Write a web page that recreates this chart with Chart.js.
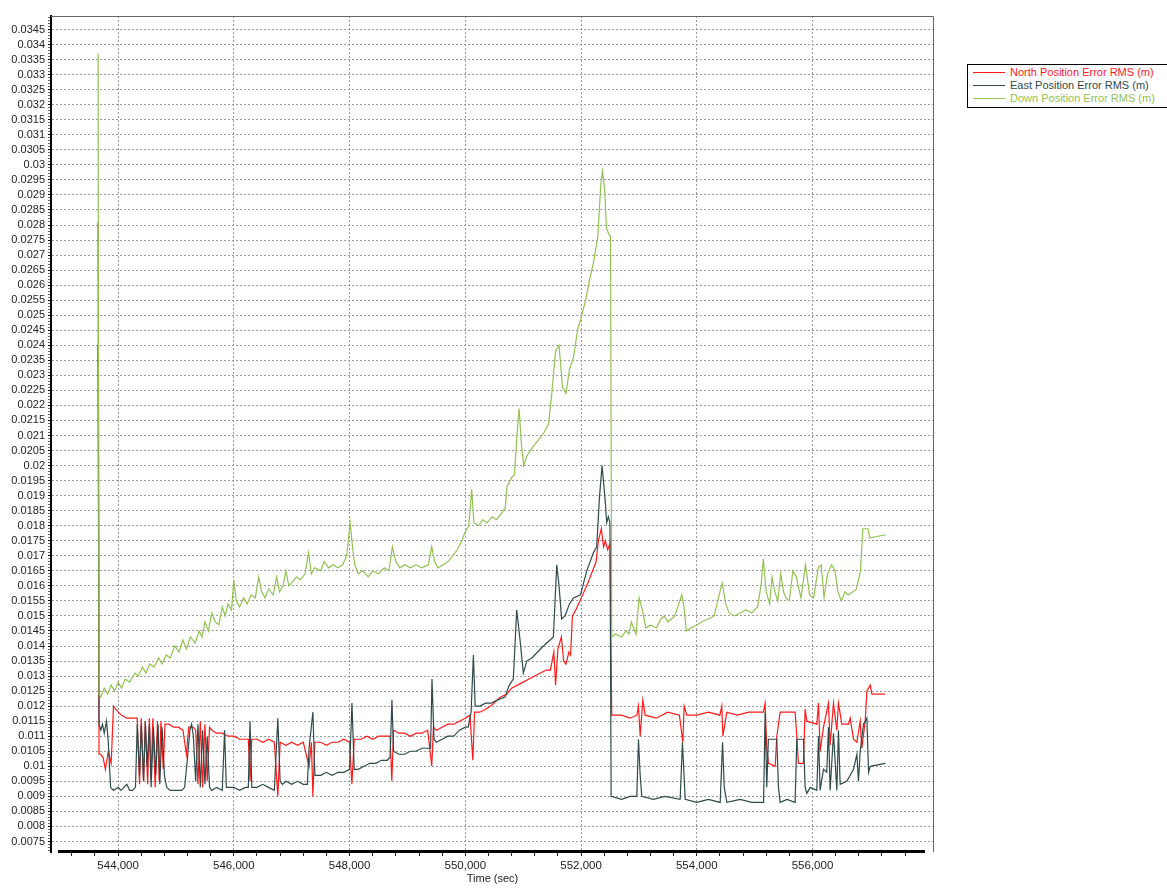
<!DOCTYPE html>
<html>
<head>
<meta charset="utf-8">
<title>Position Error RMS</title>
<script src="https://cdn.jsdelivr.net/npm/chart.js@4.4.1/dist/chart.umd.min.js"></script>
<style>
    html, body { margin: 0; padding: 0; background: #fff; }
    .chart-container { position: relative; width: 1167px; height: 888px; overflow: hidden; }
    .legend-container {
        position: absolute; left: 967px; top: 64px; width: 240px; height: 42px;
        border: 1px solid #000; background: #fff;
        font: 11px 'Liberation Sans', Arial, sans-serif;
    }
    .legend-item { position: absolute; left: 0; height: 14px; line-height: 14px; white-space: nowrap; }
    .legend-line { position: absolute; left: 5px; top: 7px; width: 32px; height: 0; border-top: 1px solid; }
    .legend-item span { position: absolute; left: 42px; }
</style>
</head>
<body>
<div class="chart-container">
    <canvas id="rmsChart" width="1167" height="888"></canvas>
</div>
<script>
// axis ranges
const xMin = 542840, xMax = 558100;
const yMin = 0.00715, yMax = 0.03495;

// North Position Error RMS (m)
const northTime = [
    543654, 543670, 543700, 543740, 543780, 543830, 543880, 543920, 544000, 544060,
    544150, 544250, 544330, 544370, 544400, 544440, 544470, 544510, 544540, 544570,
    544600, 544640, 544680, 544710, 544740, 544780, 544810, 544880, 544960, 545040,
    545120, 545180, 545220, 545300, 545340, 545380, 545420, 545460, 545500, 545540,
    545580, 545620, 545700, 545800, 545900, 546000, 546100, 546200, 546250, 546280,
    546310, 546400, 546500, 546600, 546700, 546760, 546800, 546900, 547000, 547100,
    547200, 547300, 547340, 547366, 547400, 547500, 547600, 547700, 547800, 547900,
    548000, 548040, 548080, 548200, 548300, 548400, 548500, 548600, 548700, 548730,
    548760, 548850, 548950, 549050, 549150, 549250, 549350, 549420, 549450, 549500,
    549600, 549700, 549800, 549900, 550000, 550080, 550130, 550160, 550250, 550350,
    550430, 550500, 550600, 550720, 550800, 550900, 551000, 551100, 551200, 551300,
    551400, 551470, 551530, 551560, 551600, 551660, 551700, 551740, 551790, 551820,
    551850, 551910, 551980, 552050, 552120, 552200, 552260, 552300, 552350, 552390,
    552420, 552460, 552500, 552530, 552700, 552850, 552964, 552993, 553022, 553068,
    553108, 553300, 553500, 553700, 553759, 553782, 553828, 554000, 554200, 554400,
    554433, 554452, 554519, 554700, 554900, 555152, 555181, 555210, 555240, 555355,
    555384, 555441, 555700, 555729, 555756, 555843, 555873, 555902, 556075, 556104,
    556132, 556190, 556276, 556305, 556363, 556421, 556449, 556507, 556622, 556651,
    556709, 556767, 556824, 556853, 556911, 556940, 556998, 557027, 557257
];
const northRms = [
    0.0281, 0.0104, 0.0104, 0.0103, 0.0099, 0.0105, 0.0101, 0.0120, 0.0118, 0.0117,
    0.0116, 0.0116, 0.0116, 0.0094, 0.0116, 0.0095, 0.0115, 0.0094, 0.0116, 0.0096,
    0.0116, 0.0093, 0.0115, 0.0095, 0.0115, 0.0099, 0.0114, 0.0114, 0.0113, 0.0113,
    0.0112, 0.0104, 0.0113, 0.0113, 0.0112, 0.0094, 0.0115, 0.0093, 0.0114, 0.0095,
    0.0113, 0.0112, 0.0111, 0.0111, 0.0110, 0.0110, 0.0109, 0.0109, 0.0109, 0.0095,
    0.0109, 0.0109, 0.0108, 0.0109, 0.0108, 0.0090, 0.0108, 0.0107, 0.0108, 0.0107,
    0.0108, 0.0100, 0.0108, 0.0090, 0.0108, 0.0108, 0.0107, 0.0108, 0.0108, 0.0109,
    0.0108, 0.0094, 0.0109, 0.0109, 0.0110, 0.0109, 0.0110, 0.0110, 0.0110, 0.0095,
    0.0112, 0.0111, 0.0111, 0.0110, 0.0111, 0.0111, 0.0112, 0.0100, 0.0113, 0.0112,
    0.0113, 0.0114, 0.0114, 0.0115, 0.0116, 0.0117, 0.0102, 0.0118, 0.0118, 0.0119,
    0.0120, 0.0121, 0.0123, 0.0124, 0.0126, 0.0127, 0.0128, 0.0129, 0.0130, 0.0131,
    0.0132, 0.0132, 0.0138, 0.0127, 0.0139, 0.0143, 0.0135, 0.0134, 0.0138, 0.0137,
    0.0150, 0.0152, 0.0155, 0.0158, 0.0161, 0.0165, 0.0168, 0.0175, 0.0179, 0.0173,
    0.0175, 0.0172, 0.0174, 0.0117, 0.0117, 0.0116, 0.0117, 0.0120, 0.0110, 0.0122,
    0.0117, 0.0116, 0.0118, 0.0117, 0.0108, 0.0120, 0.0117, 0.0117, 0.0118, 0.0117,
    0.0120, 0.0110, 0.0118, 0.0117, 0.0118, 0.0118, 0.0121, 0.0106, 0.0101, 0.0100,
    0.0110, 0.0118, 0.0118, 0.0110, 0.0101, 0.0101, 0.0119, 0.0115, 0.0114, 0.0121,
    0.0105, 0.0113, 0.0121, 0.0107, 0.0121, 0.0112, 0.0121, 0.0114, 0.0114, 0.0116,
    0.0109, 0.0108, 0.0115, 0.0106, 0.0115, 0.0125, 0.0127, 0.0124, 0.0124
];

// East Position Error RMS (m)
const eastTime = [
    543654, 543670, 543700, 543730, 543760, 543800, 543830, 543870, 543920, 544000,
    544050, 544100, 544150, 544200, 544250, 544300, 544330, 544370, 544400, 544440,
    544470, 544500, 544540, 544570, 544610, 544650, 544690, 544720, 544760, 544800,
    544840, 544900, 545000, 545100, 545150, 545200, 545240, 545270, 545300, 545340,
    545380, 545420, 545460, 545500, 545540, 545580, 545620, 545700, 545800, 545840,
    545870, 546000, 546100, 546200, 546250, 546280, 546310, 546400, 546500, 546600,
    546700, 546760, 546800, 546840, 546900, 547000, 547100, 547200, 547270, 547300,
    547366, 547400, 547500, 547600, 547700, 547800, 547900, 548000, 548041, 548080,
    548150, 548250, 548350, 548450, 548550, 548650, 548700, 548732, 548760, 548850,
    548950, 549050, 549150, 549250, 549350, 549400, 549424, 549460, 549500, 549600,
    549700, 549800, 549900, 550000, 550050, 550100, 550140, 550170, 550250, 550350,
    550450, 550550, 550686, 550760, 550830, 550888, 550946, 551003, 551062, 551150,
    551250, 551350, 551465, 551522, 551580, 551620, 551665, 551723, 551800, 551870,
    551990, 552099, 552213, 552271, 552317, 552363, 552415, 552444, 552472, 552500,
    552520, 552700, 552850, 552964, 552993, 553022, 553050, 553250, 553450, 553713,
    553753, 553800, 554000, 554200, 554405, 554446, 554475, 554520, 554750, 554950,
    555155, 555181, 555210, 555238, 555383, 555412, 555441, 555560, 555700, 555729,
    555844, 555873, 555902, 555960, 556075, 556104, 556132, 556190, 556247, 556276,
    556305, 556363, 556421, 556449, 556478, 556593, 556709, 556767, 556795, 556824,
    556882, 556940, 556969, 556998, 557257
];
const eastRms = [
    0.0240, 0.0114, 0.0112, 0.0114, 0.0111, 0.0115, 0.0108, 0.0093, 0.0092, 0.0093,
    0.0092, 0.0093, 0.0094, 0.0092, 0.0092, 0.0093, 0.0114, 0.0097, 0.0114, 0.0095,
    0.0115, 0.0100, 0.0114, 0.0093, 0.0113, 0.0097, 0.0114, 0.0094, 0.0113, 0.0097,
    0.0093, 0.0092, 0.0092, 0.0092, 0.0093, 0.0103, 0.0112, 0.0114, 0.0110, 0.0095,
    0.0114, 0.0093, 0.0112, 0.0094, 0.0110, 0.0093, 0.0092, 0.0093, 0.0092, 0.0112,
    0.0093, 0.0093, 0.0092, 0.0093, 0.0093, 0.0115, 0.0093, 0.0093, 0.0094, 0.0093,
    0.0092, 0.0116, 0.0095, 0.0094, 0.0095, 0.0094, 0.0095, 0.0094, 0.0094, 0.0106,
    0.0118, 0.0097, 0.0097, 0.0098, 0.0097, 0.0098, 0.0098, 0.0099, 0.0121, 0.0099,
    0.0099, 0.0100, 0.0101, 0.0101, 0.0102, 0.0102, 0.0103, 0.0122, 0.0105, 0.0104,
    0.0104, 0.0105, 0.0105, 0.0106, 0.0106, 0.0106, 0.0129, 0.0109, 0.0108, 0.0109,
    0.0110, 0.0110, 0.0112, 0.0113, 0.0113, 0.0118, 0.0137, 0.0120, 0.0120, 0.0121,
    0.0121, 0.0122, 0.0123, 0.0127, 0.0129, 0.0152, 0.0142, 0.0131, 0.0135, 0.0136,
    0.0138, 0.0140, 0.0142, 0.0143, 0.0167, 0.0160, 0.0149, 0.0150, 0.0154, 0.0156,
    0.0157, 0.0165, 0.0171, 0.0173, 0.0189, 0.0200, 0.0189, 0.0181, 0.0183, 0.0181,
    0.0090, 0.0089, 0.0090, 0.0090, 0.0109, 0.0097, 0.0090, 0.0089, 0.0090, 0.0089,
    0.0108, 0.0089, 0.0088, 0.0089, 0.0088, 0.0108, 0.0093, 0.0088, 0.0089, 0.0088,
    0.0088, 0.0118, 0.0093, 0.0109, 0.0109, 0.0093, 0.0088, 0.0089, 0.0088, 0.0109,
    0.0109, 0.0093, 0.0091, 0.0093, 0.0092, 0.0110, 0.0092, 0.0099, 0.0098, 0.0113,
    0.0092, 0.0111, 0.0092, 0.0112, 0.0094, 0.0095, 0.0099, 0.0104, 0.0095, 0.0105,
    0.0114, 0.0116, 0.0098, 0.0100, 0.0101
];

// Down Position Error RMS (m)
const downTime = [
    543654, 543670, 543700, 543760, 543820, 543880, 543940, 544000, 544060, 544120,
    544200, 544290, 544350, 544420, 544480, 544550, 544620, 544700, 544760, 544830,
    544900, 544980, 545050, 545120, 545180, 545250, 545330, 545400, 545450, 545500,
    545560, 545620, 545680, 545740, 545800, 545850, 545900, 545960, 546000, 546040,
    546100, 546170, 546230, 546300, 546370, 546430, 546480, 546540, 546600, 546680,
    546740, 546790, 546850, 546900, 546950, 547000, 547080, 547150, 547230, 547290,
    547340, 547400, 547500, 547560, 547640, 547720, 547800, 547880, 547950, 548010,
    548050, 548090, 548150, 548230, 548320, 548400, 548500, 548600, 548680, 548740,
    548800, 548870, 548950, 549050, 549150, 549250, 549360, 549420, 549470, 549530,
    549620, 549700, 549780, 549860, 549940, 550000, 550060, 550110, 550150, 550230,
    550300, 550380, 550460, 550540, 550620, 550690, 550720, 550800, 550850, 550900,
    550930, 550970, 551010, 551060, 551120, 551200, 551280, 551360, 551440, 551500,
    551560, 551620, 551680, 551740, 551800, 551870, 551940, 552000, 552080, 552150,
    552220, 552290, 552340, 552370, 552410, 552440, 552480, 552510, 552530, 552600,
    552700, 552780, 552830, 552870, 552950, 553003, 553060, 553120, 553200, 553300,
    553380, 553440, 553500, 553560, 553620, 553741, 553780, 553820, 553900, 554000,
    554080, 554200, 554300, 554400, 554440, 554500, 554560, 554650, 554750, 554850,
    554950, 555050, 555110, 555150, 555200, 555260, 555300, 555350, 555400, 555450,
    555500, 555540, 555600, 555660, 555720, 555800, 555880, 555950, 556020, 556100,
    556150, 556200, 556260, 556330, 556390, 556440, 556500, 556560, 556620, 556700,
    556760, 556830, 556870, 556960, 556990, 557270
];
const downRms = [
    0.0337, 0.0124, 0.0123, 0.0126, 0.0124, 0.0127, 0.0125, 0.0128, 0.0126, 0.0129,
    0.0128, 0.0131, 0.0130, 0.0133, 0.0131, 0.0134, 0.0133, 0.0136, 0.0134, 0.0137,
    0.0136, 0.0140, 0.0138, 0.0142, 0.0139, 0.0143, 0.0141, 0.0145, 0.0143, 0.0148,
    0.0145, 0.0151, 0.0148, 0.0147, 0.0153, 0.0150, 0.0154, 0.0152, 0.0162, 0.0155,
    0.0153, 0.0156, 0.0154, 0.0157, 0.0156, 0.0163, 0.0158, 0.0156, 0.0159, 0.0157,
    0.0163, 0.0158, 0.0160, 0.0165, 0.0160, 0.0161, 0.0163, 0.0162, 0.0164, 0.0171,
    0.0164, 0.0166, 0.0165, 0.0168, 0.0166, 0.0167, 0.0166, 0.0167, 0.0170, 0.0181,
    0.0173, 0.0167, 0.0164, 0.0165, 0.0163, 0.0165, 0.0164, 0.0166, 0.0165, 0.0173,
    0.0168, 0.0166, 0.0167, 0.0166, 0.0167, 0.0166, 0.0167, 0.0173, 0.0168, 0.0166,
    0.0167, 0.0168, 0.0170, 0.0172, 0.0175, 0.0178, 0.0180, 0.0192, 0.0181, 0.0180,
    0.0182, 0.0181, 0.0183, 0.0182, 0.0184, 0.0186, 0.0193, 0.0196, 0.0197, 0.0212,
    0.0219, 0.0207, 0.0200, 0.0203, 0.0205, 0.0207, 0.0209, 0.0211, 0.0214, 0.0225,
    0.0238, 0.0240, 0.0226, 0.0224, 0.0232, 0.0236, 0.0245, 0.0249, 0.0255, 0.0262,
    0.0268, 0.0276, 0.0293, 0.0298, 0.0291, 0.0279, 0.0277, 0.0276, 0.0143, 0.0144,
    0.0143, 0.0145, 0.0144, 0.0148, 0.0144, 0.0156, 0.0152, 0.0146, 0.0147, 0.0146,
    0.0149, 0.0150, 0.0148, 0.0149, 0.0150, 0.0157, 0.0153, 0.0145, 0.0146, 0.0147,
    0.0148, 0.0149, 0.0150, 0.0158, 0.0161, 0.0154, 0.0151, 0.0150, 0.0151, 0.0152,
    0.0151, 0.0153, 0.0160, 0.0169, 0.0158, 0.0154, 0.0163, 0.0158, 0.0155, 0.0164,
    0.0158, 0.0156, 0.0155, 0.0165, 0.0163, 0.0156, 0.0167, 0.0157, 0.0156, 0.0166,
    0.0167, 0.0156, 0.0164, 0.0167, 0.0165, 0.0158, 0.0155, 0.0158, 0.0157, 0.0158,
    0.0159, 0.0165, 0.0179, 0.0179, 0.0176, 0.0177
];

const seriesLabels = ['North Position Error RMS (m)', 'East Position Error RMS (m)', 'Down Position Error RMS (m)'];
const seriesColors = ['#ff1a1a', '#2f4a4b', '#93c253'];

// tick positions: minor every 400 s / 0.0001 m, labelled every 2000 s / 0.0005 m
const xTicks = [];
for (let t = 543200; t <= 557600; t += 400) xTicks.push(t);
const yTicks = [];
for (let i = 72; i <= 349; i++) yTicks.push(i / 10000);

const isMajorX = v => v % 2000 === 0;
const isMajorY = v => Math.abs(v * 2000 - Math.round(v * 2000)) < 1e-6;

function toPoints(times, values) {
    return times.map((t, i) => ({ x: t, y: values[i] }));
}

const fontFamily = "'Liberation Sans', Arial, sans-serif";

// frame round the plot and the heavy time axis line
const framePlugin = {
    id: 'frame',
    beforeDatasetsDraw(chart) {
        const a = chart.chartArea, c = chart.ctx;
        c.save();
        c.strokeStyle = '#666';
        c.lineWidth = 1;
        c.beginPath();
        c.moveTo(a.left, a.top + 0.5);
        c.lineTo(a.right - 0.5, a.top + 0.5);
        c.lineTo(a.right - 0.5, a.bottom);
        c.stroke();
        c.restore();
    },
    afterDatasetsDraw(chart) {
        const a = chart.chartArea, c = chart.ctx;
        c.save();
        c.strokeStyle = '#000';
        c.lineWidth = 3;
        c.beginPath();
        c.moveTo(a.left + 7, a.bottom - 0.5);
        c.lineTo(a.right - 9, a.bottom - 0.5);
        c.stroke();
        c.restore();
    }
};

const config = {
    type: 'line',
    data: {
        datasets: [
            { label: seriesLabels[0], data: toPoints(northTime, northRms), borderColor: seriesColors[0], order: 2 },
            { label: seriesLabels[1], data: toPoints(eastTime, eastRms), borderColor: seriesColors[1], order: 1 },
            { label: seriesLabels[2], data: toPoints(downTime, downRms), borderColor: seriesColors[2], order: 0 }
        ]
    },
    options: {
        responsive: false,
        animation: false,
        events: [],
        parsing: false,
        elements: {
            line: { borderWidth: 1.2, tension: 0, fill: false },
            point: { radius: 0 }
        },
        layout: { padding: { left: 0, top: 16, right: 233, bottom: 0 } },
        plugins: {
            legend: { display: false },
            tooltip: { enabled: false }
        },
        scales: {
            x: {
                type: 'linear',
                min: xMin,
                max: xMax,
                afterBuildTicks: s => { s.ticks = xTicks.map(v => ({ value: v })); },
                afterFit: s => { s.height = 36; },
                ticks: {
                    autoSkip: false,
                    maxRotation: 0,
                    padding: 3,
                    color: '#222',
                    font: { family: fontFamily, size: 11.5 },
                    callback: v => isMajorX(v) ? v.toLocaleString('en-US') : ''
                },
                grid: {
                    color: c => (c.tick && isMajorX(c.tick.value)) ? '#9a9a9a' : 'rgba(0,0,0,0)',
                    tickColor: '#222',
                    tickLength: 4,
                    lineWidth: 1
                },
                border: { display: false, dash: [2, 2] },
                title: {
                    display: true,
                    text: 'Time (sec)',
                    color: '#222',
                    font: { family: fontFamily, size: 11 },
                    padding: { top: 0, bottom: 2 }
                }
            },
            y: {
                type: 'linear',
                min: yMin,
                max: yMax,
                afterBuildTicks: s => { s.ticks = yTicks.map(v => ({ value: v })); },
                afterFit: s => { s.width = 51; },
                ticks: {
                    autoSkip: false,
                    padding: 3,
                    color: '#222',
                    font: { family: fontFamily, size: 11 },
                    callback: v => isMajorY(v) ? String(+v.toFixed(4)) : ''
                },
                grid: {
                    color: c => (c.tick && isMajorY(c.tick.value)) ? '#9a9a9a' : 'rgba(0,0,0,0)',
                    tickColor: c => (c.tick && isMajorY(c.tick.value)) ? '#000' : '#666',
                    tickLength: 3,
                    lineWidth: 1
                },
                border: { display: true, color: '#000', width: 2, dash: [2, 2] }
            }
        }
    },
    plugins: [framePlugin]
};

const ctx = document.getElementById('rmsChart').getContext('2d');
const rmsChart = new Chart(ctx, config);

// legend box at the top right
const legendContainer = document.createElement('div');
legendContainer.classList.add('legend-container');
document.querySelector('.chart-container').appendChild(legendContainer);

seriesLabels.forEach((label, i) => {
    const item = document.createElement('div');
    item.classList.add('legend-item');
    item.style.top = (i * 13) + 'px';
    const line = document.createElement('div');
    line.classList.add('legend-line');
    line.style.borderColor = seriesColors[i];
    const text = document.createElement('span');
    text.textContent = label;
    text.style.color = seriesColors[i];
    item.appendChild(line);
    item.appendChild(text);
    legendContainer.appendChild(item);
});
</script>
</body>
</html>
